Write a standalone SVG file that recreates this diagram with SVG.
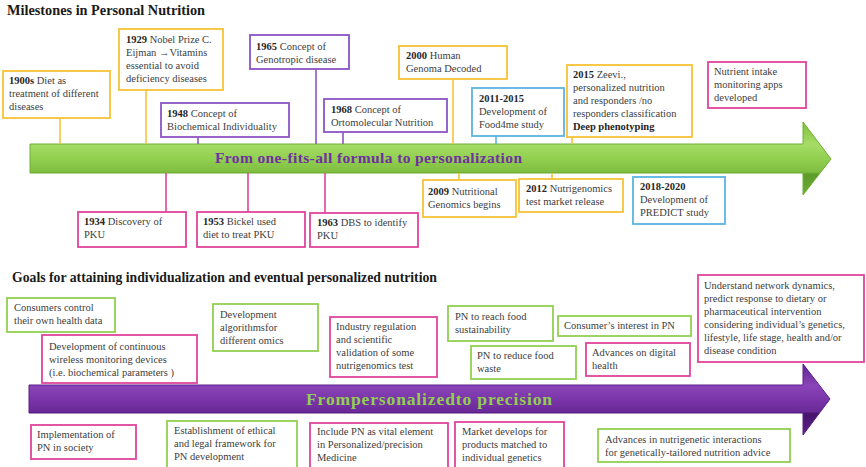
<svg xmlns="http://www.w3.org/2000/svg" width="866" height="467" viewBox="0 0 866 467">
  <defs>
    <linearGradient id="gGreen" x1="0" y1="122" x2="0" y2="195" gradientUnits="userSpaceOnUse">
      <stop offset="0" stop-color="#7DBF3A"/>
      <stop offset="0.3" stop-color="#A6DC66"/>
      <stop offset="0.5" stop-color="#92D050"/>
      <stop offset="0.68" stop-color="#80BE42"/>
      <stop offset="0.72" stop-color="#5C9A2A"/>
      <stop offset="1" stop-color="#6FAE36"/>
    </linearGradient>
    <linearGradient id="gPurple" x1="0" y1="364" x2="0" y2="435" gradientUnits="userSpaceOnUse">
      <stop offset="0" stop-color="#5E2390"/>
      <stop offset="0.3" stop-color="#8A45B8"/>
      <stop offset="0.5" stop-color="#7A35A8"/>
      <stop offset="0.67" stop-color="#6A2A98"/>
      <stop offset="0.7" stop-color="#45146C"/>
      <stop offset="1" stop-color="#5A1F88"/>
    </linearGradient>
  </defs>
  <style>
    .title { font-family: "Liberation Serif", "Times New Roman", serif; font-weight: bold; font-size: 14px; fill: #1a1a1a; }
    .t { font-family: "Liberation Serif", "Times New Roman", serif; font-size: 10.5px; fill: #404040; }
    .t .b, .t.b { font-weight: bold; fill: #262626; }
    .box { fill: #ffffff; stroke-width: 1.8; }
    .yellow { stroke: #F7C236; }
    .purple { stroke: #8C55C4; }
    .pink { stroke: #E0449C; }
    .blue { stroke: #5AB4E5; }
    .green { stroke: #92D050; }
    .link { fill: none; stroke-width: 1.6; }
    .arrowLabel { font-family: "Liberation Serif", "Times New Roman", serif; font-weight: bold; }
  </style>
  <rect width="866" height="467" fill="#ffffff"/>

  <!-- Section titles -->
  <text class="title" x="7" y="15" textLength="198" lengthAdjust="spacingAndGlyphs">Milestones in Personal Nutrition</text>
  <text class="title" x="12" y="282" textLength="425" lengthAdjust="spacingAndGlyphs">Goals for attaining individualization and eventual personalized nutrition</text>

  <!-- Timeline arrows -->
  <g id="arrow-green">
    <path d="M30,144 H803 V122 L831,159 L803,195 V173 H30 Z" fill="url(#gGreen)" stroke="#6FAE36" stroke-width="1"/>
    <text class="arrowLabel" x="215" y="163" font-size="15.5" fill="#7030A0" textLength="307" lengthAdjust="spacing">From one-fits-all formula to personalization</text>
  </g>
  <g id="arrow-purple">
    <path d="M29,385 H803 V364 L830,399 L803,435 V413 H29 Z" fill="url(#gPurple)" stroke="#5A1F88" stroke-width="1"/>
    <text class="arrowLabel" x="306" y="405" font-size="17.5" fill="#92D050" textLength="246" lengthAdjust="spacing">Frompersonalizedto precision</text>
  </g>

  <!-- Connectors -->
  <g id="connectors">
    <line class="link yellow" x1="60" y1="118" x2="60" y2="144"/>
    <line class="link yellow" x1="146" y1="90" x2="146" y2="144"/>
    <line class="link purple" x1="198" y1="137" x2="198" y2="144"/>
    <line class="link purple" x1="316" y1="69" x2="316" y2="144"/>
    <line class="link purple" x1="343" y1="132" x2="343" y2="144"/>
    <line class="link yellow" x1="453" y1="79" x2="453" y2="144"/>
    <line class="link blue" x1="496" y1="136" x2="496" y2="144"/>
    <line class="link yellow" x1="572" y1="137" x2="572" y2="144"/>
    <line class="link pink" x1="166" y1="173" x2="166" y2="212"/>
    <line class="link pink" x1="248" y1="173" x2="248" y2="212"/>
    <line class="link pink" x1="325" y1="173" x2="325" y2="213"/>
    <line class="link yellow" x1="459" y1="173" x2="459" y2="180"/>
    <line class="link yellow" x1="552" y1="173" x2="552" y2="179"/>
  </g>

  <!-- Milestones above the timeline -->
  <g id="m1900">
    <rect class="box yellow" x="3" y="71" width="107" height="47"/>
    <text class="t" x="9" y="84"><tspan class="b">1900s</tspan> Diet as</text>
    <text class="t" x="9" y="97">treatment of different</text>
    <text class="t" x="9" y="110">diseases</text>
  </g>
  <g id="m1929">
    <rect class="box yellow" x="119" y="29" width="104" height="61"/>
    <text class="t" x="126" y="43"><tspan class="b">1929</tspan> Nobel Prize C.</text>
    <text class="t" x="126" y="56">Eijman <tspan font-weight="bold">→</tspan>Vitamins</text>
    <text class="t" x="126" y="69">essential to avoid</text>
    <text class="t" x="126" y="82">deficiency  diseases</text>
  </g>
  <g id="m1948">
    <rect class="box purple" x="161" y="103" width="128" height="34"/>
    <text class="t" x="167" y="117"><tspan class="b">1948</tspan> Concept of</text>
    <text class="t" x="167" y="130">Biochemical Individuality</text>
  </g>
  <g id="m1965">
    <rect class="box purple" x="250" y="35" width="99" height="34"/>
    <text class="t" x="256" y="50"><tspan class="b">1965</tspan> Concept of</text>
    <text class="t" x="256" y="63">Genotropic disease</text>
  </g>
  <g id="m1968">
    <rect class="box purple" x="324" y="99" width="123" height="33"/>
    <text class="t" x="331" y="113"><tspan class="b">1968</tspan> Concept of</text>
    <text class="t" x="331" y="126">Ortomolecular Nutrition</text>
  </g>
  <g id="m2000">
    <rect class="box yellow" x="399" y="46" width="108" height="33"/>
    <text class="t" x="406" y="59"><tspan class="b">2000</tspan> Human</text>
    <text class="t" x="406" y="72">Genoma Decoded</text>
  </g>
  <g id="m2011">
    <rect class="box blue" x="472" y="88" width="92" height="48"/>
    <text class="t b" x="479" y="102">2011-2015</text>
    <text class="t" x="479" y="115">Development of</text>
    <text class="t" x="479" y="128">Food4me study</text>
  </g>
  <g id="m2015">
    <rect class="box yellow" x="567" y="65" width="125" height="72"/>
    <text class="t" x="573" y="78"><tspan class="b">2015</tspan> Zeevi.,</text>
    <text class="t" x="573" y="91">personalized nutrition</text>
    <text class="t" x="573" y="104">and responders /no</text>
    <text class="t" x="573" y="117">responders classification</text>
    <text class="t b" x="573" y="130">Deep phenotyping</text>
  </g>
  <g id="mApps">
    <rect class="box pink" x="708" y="62" width="98" height="46"/>
    <text class="t" x="714" y="75">Nutrient intake</text>
    <text class="t" x="714" y="88">monitoring apps</text>
    <text class="t" x="714" y="101">developed</text>
  </g>

  <!-- Milestones below the timeline -->
  <g id="m1934">
    <rect class="box pink" x="78" y="212" width="108" height="35"/>
    <text class="t" x="84" y="225"><tspan class="b">1934</tspan> Discovery of</text>
    <text class="t" x="84" y="238">PKU</text>
  </g>
  <g id="m1953">
    <rect class="box pink" x="197" y="212" width="108" height="35"/>
    <text class="t" x="203" y="225"><tspan class="b">1953</tspan> Bickel used</text>
    <text class="t" x="203" y="238">diet to treat PKU</text>
  </g>
  <g id="m1963">
    <rect class="box pink" x="310" y="213" width="108" height="34"/>
    <text class="t" x="317" y="226"><tspan class="b">1963</tspan> DBS to identify</text>
    <text class="t" x="317" y="239">PKU</text>
  </g>
  <g id="m2009">
    <rect class="box yellow" x="423" y="180" width="93" height="37"/>
    <text class="t" x="428" y="195"><tspan class="b">2009</tspan> Nutritional</text>
    <text class="t" x="428" y="208">Genomics begins</text>
  </g>
  <g id="m2012">
    <rect class="box yellow" x="519" y="179" width="104" height="33"/>
    <text class="t" x="526" y="192"><tspan class="b">2012</tspan> Nutrigenomics</text>
    <text class="t" x="526" y="205">test market release</text>
  </g>
  <g id="m2018">
    <rect class="box blue" x="633" y="177" width="92" height="47"/>
    <text class="t b" x="640" y="190">2018-2020</text>
    <text class="t" x="640" y="203">Development of</text>
    <text class="t" x="640" y="216">PREDICT study</text>
  </g>

  <!-- Goals above the second timeline -->
  <g id="gConsumers">
    <rect class="box green" x="7" y="298" width="108" height="34"/>
    <text class="t" x="14" y="311">Consumers control</text>
    <text class="t" x="14" y="324">their own health data</text>
  </g>
  <g id="gWireless">
    <rect class="box pink" x="42" y="335" width="155" height="48"/>
    <text class="t" x="49" y="350">Development of continuous</text>
    <text class="t" x="49" y="363">wireless monitoring devices</text>
    <text class="t" x="49" y="376">(i.e. biochemical parameters )</text>
  </g>
  <g id="gAlgorithms">
    <rect class="box green" x="213" y="304" width="105" height="47"/>
    <text class="t" x="220" y="318">Development</text>
    <text class="t" x="220" y="331">algorithmsfor</text>
    <text class="t" x="220" y="344">different  omics</text>
  </g>
  <g id="gRegulation">
    <rect class="box pink" x="330" y="317" width="107" height="60"/>
    <text class="t" x="336" y="330">Industry regulation</text>
    <text class="t" x="336" y="343">and scientific</text>
    <text class="t" x="336" y="356">validation of  some</text>
    <text class="t" x="336" y="369">nutrigenomics test</text>
  </g>
  <g id="gSustain">
    <rect class="box green" x="448" y="306" width="105" height="35"/>
    <text class="t" x="455" y="320">PN to reach  food</text>
    <text class="t" x="455" y="333">sustainability</text>
  </g>
  <g id="gInterest">
    <rect class="box green" x="558" y="316" width="133" height="20"/>
    <text class="t" x="564" y="329">Consumer’s interest in PN</text>
  </g>
  <g id="gWaste">
    <rect class="box green" x="471" y="346" width="105" height="33"/>
    <text class="t" x="477" y="359">PN to reduce  food</text>
    <text class="t" x="477" y="372">waste</text>
  </g>
  <g id="gDigital">
    <rect class="box pink" x="586" y="343" width="104" height="33"/>
    <text class="t" x="592" y="356">Advances  on digital</text>
    <text class="t" x="592" y="369">health</text>
  </g>
  <g id="gNetwork">
    <rect class="box pink" x="698" y="275" width="166" height="87"/>
    <text class="t" x="704" y="289">Understand network dynamics,</text>
    <text class="t" x="704" y="302">predict response to dietary or</text>
    <text class="t" x="704" y="315">pharmaceutical intervention</text>
    <text class="t" x="704" y="328">considering individual’s genetics,</text>
    <text class="t" x="704" y="341">lifestyle, life stage, health and/or</text>
    <text class="t" x="704" y="354">disease condition</text>
  </g>

  <!-- Goals below the second timeline -->
  <g id="gSociety">
    <rect class="box pink" x="31" y="425" width="105" height="34"/>
    <text class="t" x="37" y="438">Implementation of</text>
    <text class="t" x="37" y="451">PN in society</text>
  </g>
  <g id="gEthics">
    <rect class="box green" x="167" y="421" width="130" height="50"/>
    <text class="t" x="174" y="434">Establishment of ethical</text>
    <text class="t" x="174" y="447">and legal framework  for</text>
    <text class="t" x="174" y="460">PN development</text>
  </g>
  <g id="gMedicine">
    <rect class="box pink" x="310" y="423" width="138" height="48"/>
    <text class="t" x="317" y="435">Include PN as vital element</text>
    <text class="t" x="317" y="448">in Personalized/precision</text>
    <text class="t" x="317" y="461">Medicine</text>
  </g>
  <g id="gMarket">
    <rect class="box pink" x="455" y="422" width="109" height="49"/>
    <text class="t" x="462" y="435">Market develops for</text>
    <text class="t" x="462" y="448">products matched to</text>
    <text class="t" x="462" y="461">individual genetics</text>
  </g>
  <g id="gNutrigenetic">
    <rect class="box green" x="598" y="429" width="192" height="33"/>
    <text class="t" x="605" y="443">Advances  in nutrigenetic interactions</text>
    <text class="t" x="605" y="456">for genetically-tailored nutrition advice</text>
  </g>
</svg>
